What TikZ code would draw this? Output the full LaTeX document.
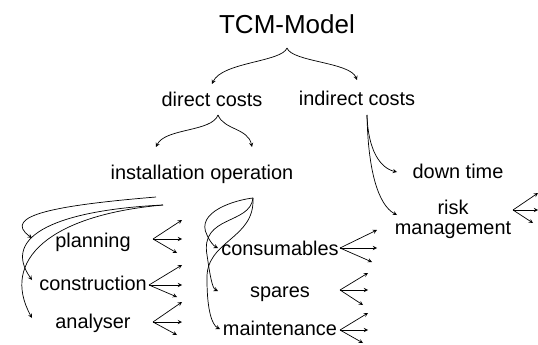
\documentclass[tikz,border=0pt]{standalone}
\usepackage{fontspec}
\setmainfont{Liberation Sans}
\usetikzlibrary{shapes,arrows,positioning,calc}

\begin{document}
\begin{tikzpicture}[x=0.03cm, y=-0.03cm]
        % Define styles
        \tikzstyle{term} = [inner sep=0pt, anchor=base, font=\fontsize{17}{17}\selectfont]
        \tikzstyle{arrow} = [line width=0.6pt,->,>=stealth]

        \useasboundingbox (0,0) rectangle (538,345);

        % Nodes
        \node [term, font=\fontsize{22.2}{22}\selectfont] (tcm) at (287,34) {TCM-Model};
        \node [term] (direct) at (212,107) {direct costs};
        \node [term] (indirect) at (357,106) {indirect costs};
        \node [term] (install) at (202,180) {installation operation};
        \node [term] (down) at (458,179) {down time};
        \node [term, anchor=center, align=center] (risk) at (453,219) {risk\\management};
        \node [term] (planning) at (93,247) {planning};
        \node [term] (construction) at (93,290) {construction};
        \node [term] (analyser) at (93,328) {analyser};
        \node [term] (consumables) at (280,255) {consumables};
        \node [term] (spares) at (280,297) {spares};
        \node [term] (maintenance) at (280,335) {maintenance};

        % Forks
        \coordinate (tcmfork) at ($(tcm.base)+(0,14)$);
        \coordinate (directfork) at ($(direct.base)+(6,8)$);
        \coordinate (indirectfork) at ($(indirect.base)+(10,9)$);
        \coordinate (installleft) at ($(install.base)+(-46,17)$);
        \coordinate (installmid) at ($(install.base)+(-39,25)$);
        \coordinate (installright) at ($(install.base)+(51,18)$);

        % Arrows
        \draw [arrow] (tcmfork) .. controls +(-5,14) and +(10,-22) .. ($(direct.base)+(0,-23)$);
        \draw [arrow] (tcmfork) .. controls +(5,14) and +(-7,-18) .. ($(indirect.base)+(0,-26)$);
        \draw [arrow] (directfork) .. controls +(-6,17) and +(9,-19) .. ($(install.base)+(-46,-33)$);
        \draw [arrow] (directfork) .. controls +(6,15) and +(-4,-19) .. ($(install.base)+(50,-33)$);
        \draw [arrow] (indirectfork) .. controls +(1,35) and +(-17,-4) .. ($(down.base)+(-61,-7)$);
        \draw [arrow] (indirectfork) .. controls +(1,55) and +(-19,-10) .. ($(risk.center)+(-56,-4)$);

        \draw [arrow] (installleft) .. controls (60,205) and (0,215) .. ($(planning.base)+(-61,-9)$);
        \draw [arrow] (installmid) .. controls (60,210) and (0,235) .. ($(construction.base)+(-61,-10)$);
        \draw [arrow] (installmid) .. controls (50,215) and (0,260) .. ($(analyser.base)+(-61,-10)$);

        \draw [arrow] (installright) .. controls (235,200) and (195,212) .. (207,235)
            .. controls (210,242) and (214,246) .. ($(consumables.base)+(-62,-7)$);
        \draw [arrow] (installright) .. controls (250,225) and (200,215) .. (207,255)
            .. controls (210,275) and (212,288) .. ($(spares.base)+(-62,-6)$);
        \draw [arrow] (installright) .. controls (255,240) and (205,240) .. (207,280)
            .. controls (207,310) and (212,325) .. ($(maintenance.base)+(-60,-6)$);

        % Fans
        \coordinate (planfan) at ($(planning.base)+(60,-8)$);
        \coordinate (constfan) at ($(construction.base)+(56,-5)$);
        \coordinate (analfan) at ($(analyser.base)+(60,-6)$);
        \coordinate (consfan) at ($(consumables.base)+(60,-7)$);
        \coordinate (sparfan) at ($(spares.base)+(60,-7)$);
        \coordinate (maintfan) at ($(maintenance.base)+(60,-5)$);
        \coordinate (riskfan) at ($(risk.center)+(60,-9)$);

        \draw [arrow] (planfan) -- +(29,-19); \draw [arrow] (planfan) -- +(29,0); \draw [arrow] (planfan) -- +(24,14);
        \draw [arrow] (constfan) -- +(33,-20); \draw [arrow] (constfan) -- +(33,0); \draw [arrow] (constfan) -- +(28,12);
        \draw [arrow] (analfan) -- +(29,-20); \draw [arrow] (analfan) -- +(29,0); \draw [arrow] (analfan) -- +(24,13);
        \draw [arrow] (consfan) -- +(37,-18); \draw [arrow] (consfan) -- +(37,0); \draw [arrow] (consfan) -- +(32,14);
        \draw [arrow] (sparfan) -- +(28,-17); \draw [arrow] (sparfan) -- +(28,0); \draw [arrow] (sparfan) -- +(23,15);
        \draw [arrow] (maintfan) -- +(28,-17); \draw [arrow] (maintfan) -- +(28,0); \draw [arrow] (maintfan) -- +(23,13);
        \draw [arrow] (riskfan) -- +(25,-17); \draw [arrow] (riskfan) -- +(25,0); \draw [arrow] (riskfan) -- +(20,13);

    \end{tikzpicture}
\end{document}
